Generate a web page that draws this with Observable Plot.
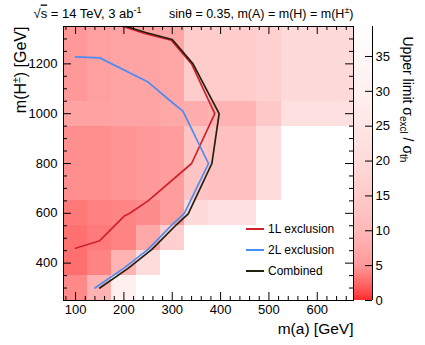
<!DOCTYPE html>
<html><head><meta charset="utf-8">
<script src="https://cdn.jsdelivr.net/npm/d3@7"></script>
<script src="https://cdn.jsdelivr.net/npm/@observablehq/plot@0.6"></script>
<style>
body{margin:0;background:#fff}
#wrap{position:relative;width:425px;height:345px;font-family:"Liberation Sans",Arial,sans-serif}
</style>
</head><body><div id="wrap"></div>
<script>
// ---- data ----
const mA = [100,150,200,250,300,350,400,450,500,550,600,650];
const mAEdges = [75,125,175,225,275,325,375,425,475,525,575,625,675];
const mH = [300,400,500,600,800,1000,1200];
const mHEdges = [250,350,450,550,650,950,1050,1350];
// upper limit sigma_excl / sigma_th per m(H+-) row, one value per m(a) column
const lim300  = [4.1, 9.0, 30,  null,null,null,null,null,null,null,null,null];
const lim400  = [2.8, 3.8, 9.3, 20.8,null,null,null,null,null,null,null,null];
const lim500  = [2.9, 3.4, 3.8, 7.3, 16.3,null,null,null,null,null,null,null];
const lim600  = [3.3, 3.7, 3.9, 4.3, 5.3, 20,  22.5,22.5,null,null,null,null];
const lim800  = [4.4, 4.4, 4.7, 4.9, 5.3, 13.3,12.2,12.2,20.8,null,null,null];
const lim1000 = [6.3, 6.3, 6.7, 6.7, 7.3, 8.0, 9.2, 9.2, 14.4,22.5,22.5,22.5];
const lim1200 = [4.9, 6.0, 6.7, 6.7, 7.0, 15.6,15.6,15.6,16.9,20,  20,  20];
const limRows = [lim300, lim400, lim500, lim600, lim800, lim1000, lim1200];

// exclusion contours
const ex1L_mA = [100,150,200,212,250,340,388,340,298,245,198];
const ex1L_mH = [460,490,588,600,650,800,1000,1200,1295,1321,1350];
const ex2L_mA = [140,200,250,300,325,375,322,300,250,150,100];
const ex2L_mH = [300,380,455,555,600,800,1010,1045,1127,1224,1228];
const exComb_mA = [150,208,258,308,333,382,397,343,300,245,205];
const exComb_mH = [300,378,455,553,598,800,1000,1200,1298,1326,1350];

// axis ticks
const xMajor = [100,200,300,400,500,600];
const xMinor = [80,120,140,160,180,220,240,260,280,320,340,360,380,420,440,460,480,520,540,560,580,620,640,660];
const yMajor = [400,600,800,1000,1200];
const yMinor = [300,350,450,500,550,650,700,750,850,900,950,1050,1100,1150,1250,1300];
const zTicks = [0,5,10,15,20,25,30,35];
const zMax = 39.3;

// colour palette (value -> colour)
const zStops  = [0,2,5,10,15,20,25,30,35,39.3];
const zColors = ["rgb(255,43,43)","rgb(255,96,96)","rgb(255,154,154)","rgb(255,184,184)","rgb(255,202,202)",
                 "rgb(255,218,218)","rgb(255,230,230)","rgb(255,240,240)","rgb(255,248,248)","rgb(255,254,254)"];

// ---- build tables ----
const cells = [];
limRows.forEach((row, i) => row.forEach((v, j) => {
  if (v != null) cells.push({x1: mAEdges[j], x2: mAEdges[j+1], y1: mHEdges[i], y2: mHEdges[i+1], v, mA: mA[j], mH: mH[i]});
}));
const toLine = (xs, ys) => xs.map((x, i) => ({x, y: ys[i]}));
const line1L = toLine(ex1L_mA, ex1L_mH);
const line2L = toLine(ex2L_mA, ex2L_mH);
const lineC = toLine(exComb_mA, exComb_mH);

const colRed = "#d0212b", colBlue = "#4a8df2", colBlack = "#22200f";
const colorOpts = {type: "linear", domain: zStops, range: zColors, interpolate: "rgb"};
const FONT = '"Liberation Sans", Arial, sans-serif';
const W = 290, H = 274;
const fmt = d => String(d);

const main = Plot.plot({
  width: 425, height: 345,
  marginLeft: 63, marginRight: 72, marginTop: 26, marginBottom: 45,
  x: {domain: [75, 675], label: null},
  y: {domain: [250, 1350], label: null},
  color: colorOpts,
  style: {fontFamily: FONT, fontSize: "13px", background: "#fff"},
  marks: [
    Plot.rect(cells, {x1: "x1", x2: "x2", y1: "y1", y2: "y2", fill: "v", shapeRendering: "crispEdges"}),
    Plot.line(line1L, {x: "x", y: "y", stroke: colRed, strokeWidth: 1.7}),
    Plot.line(line2L, {x: "x", y: "y", stroke: colBlue, strokeWidth: 1.7}),
    Plot.line(lineC, {x: "x", y: "y", stroke: colBlack, strokeWidth: 1.7}),
    Plot.frame({stroke: "#000", strokeWidth: 1}),
    Plot.tickX(xMajor, {x: d => d, insetTop: H - 8, stroke: "#000"}),
    Plot.tickX(xMinor, {x: d => d, insetTop: H - 4, stroke: "#000"}),
    Plot.tickX(xMajor, {x: d => d, insetBottom: H - 8, stroke: "#000"}),
    Plot.tickX(xMinor, {x: d => d, insetBottom: H - 4, stroke: "#000"}),
    Plot.tickY(yMajor, {y: d => d, insetRight: W - 8, stroke: "#000"}),
    Plot.tickY(yMinor, {y: d => d, insetRight: W - 4, stroke: "#000"}),
    Plot.tickY(yMajor, {y: d => d, insetLeft: W - 8, stroke: "#000"}),
    Plot.tickY(yMinor, {y: d => d, insetLeft: W - 4, stroke: "#000"}),
    Plot.axisX(xMajor, {tickSize: 0, tickPadding: 4, fontSize: 13, label: null, tickFormat: fmt}),
    Plot.axisY(yMajor, {tickSize: 0, tickPadding: 6, fontSize: 13, label: null, tickFormat: fmt}),
    Plot.text(["m(a) [GeV]"], {text: d => d, frameAnchor: "bottom-right", textAnchor: "end", lineAnchor: "bottom", dx: 0, dy: 33, fontSize: 15.5}),
    Plot.text(["YTITLE"], {text: d => d, frameAnchor: "top-left", textAnchor: "end", lineAnchor: "middle", rotate: -90, dx: -43, dy: 0, fontSize: 16}),
    Plot.text(["HDRL"], {text: d => d, frameAnchor: "top-left", textAnchor: "start", lineAnchor: "bottom", dx: -30, dy: -9, fontSize: 13}),
    Plot.text(["HDRR"], {text: d => d, frameAnchor: "top-right", textAnchor: "end", lineAnchor: "bottom", dx: 0, dy: -9, fontSize: 12.5}),
    Plot.text(["ZTITLE"], {text: d => d, frameAnchor: "top-right", textAnchor: "start", lineAnchor: "middle", rotate: 90, dx: 54, dy: 10, fontSize: 14})
  ]
});

// colour bar (legend of the colour scale)
const nStrip = 300;
const strips = d3.range(nStrip).map(i => ({lo: i * zMax / nStrip, hi: (i + 1) * zMax / nStrip, v: (i + 0.5) * zMax / nStrip}));
const bar = Plot.plot({
  width: 425, height: 345,
  marginLeft: 354, marginRight: 53, marginTop: 26, marginBottom: 45,
  x: {domain: [0, 1], axis: null},
  y: {domain: [0, zMax], axis: null},
  color: colorOpts,
  style: {position: "absolute", left: "0px", top: "0px", background: "transparent", fontFamily: FONT, fontSize: "13px"},
  marks: [
    Plot.rect(strips, {x1: () => 0, x2: () => 1, y1: "lo", y2: "hi", fill: "v", shapeRendering: "crispEdges"}),
    Plot.ruleX([1], {stroke: "#000"}),
    Plot.tickY(zTicks, {y: d => d, insetLeft: 11, stroke: "#000"}),
    Plot.axisY(zTicks, {anchor: "right", tickSize: 0, tickPadding: 3, fontSize: 13, label: null, tickFormat: fmt})
  ]
});

const wrap = document.getElementById("wrap");
wrap.appendChild(main);
wrap.appendChild(bar);

// rich text (super/subscripts)
const rich = {
  "YTITLE": 'm(H<tspan dy="-6" font-size="10.5">±</tspan><tspan dy="6">) [GeV]</tspan>',
  "HDRL": '√<tspan text-decoration="overline">s</tspan> = 14 TeV, 3 ab<tspan dy="-5" font-size="9">-1</tspan>',
  "HDRR": 'sinθ = 0.35, m(A) = m(H) = m(H<tspan dy="-5" font-size="9">±</tspan><tspan dy="5">)</tspan>',
  "ZTITLE": 'Upper limit σ<tspan dy="3" font-size="10">excl</tspan><tspan dy="-3"> / σ</tspan><tspan dy="3" font-size="10">th</tspan>'
};
d3.select(main).selectAll("text").each(function() {
  const k = this.textContent;
  if (rich[k]) d3.select(this).html(rich[k]);
});

// in-frame legend
const leg = d3.select(main).append("g").attr("font-family", FONT).attr("font-size", 12).attr("text-anchor", "start");
[["1L exclusion", colRed, 229], ["2L exclusion", colBlue, 250], ["Combined", colBlack, 271]].forEach(([t, c, y]) => {
  leg.append("line").attr("x1", 246).attr("x2", 264).attr("y1", y).attr("y2", y).attr("stroke", c).attr("stroke-width", 2);
  leg.append("text").attr("x", 268).attr("y", y).attr("dy", "0.35em").attr("fill", "#000").attr("text-anchor", "start").text(t);
});
</script></body></html>
